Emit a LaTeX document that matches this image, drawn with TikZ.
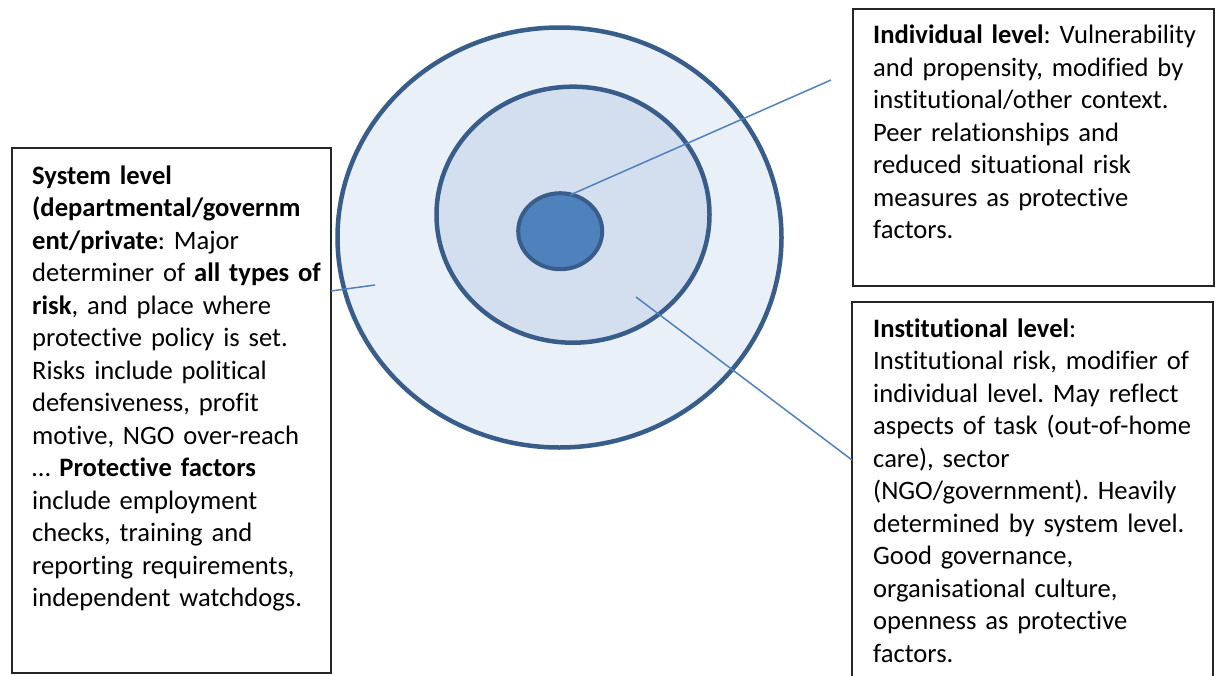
\documentclass[tikz,border=0pt]{standalone}
\usepackage{fontspec}
\setmainfont{Carlito}[RawFeature={-liga;-clig;-calt;-dlig;-rlig}]
\frenchspacing
\usetikzlibrary{shapes.geometric}
\definecolor{ringline}{HTML}{385D8A}
\definecolor{outerfill}{HTML}{EAF0F8}
\definecolor{midfill}{HTML}{D3DFEE}
\definecolor{corefill}{HTML}{4F81BD}
\definecolor{leader}{HTML}{4F81BD}
\begin{document}
\begin{tikzpicture}[x=1pt,y=-1pt,
  ring/.style={ellipse, draw=ringline, line width=4.5pt, inner sep=0pt, outer sep=0pt},
  infobox/.style={draw=black!85, line width=1.2pt, fill=white, rectangle, inner sep=0pt, outer sep=0pt},
  infotext/.style={anchor=base west, text width=#1, align=left, inner sep=0pt,
     font=\fontsize{26.6}{32.5}\selectfont\frenchspacing, text=black},
  leaderline/.style={draw=leader, line width=1.5pt}]
\useasboundingbox (0,0) rectangle (1215,675);
% rings
\node[ring, fill=outerfill, minimum width=444, minimum height=420] (outer) at (559.5,237.5) {};
\node[ring, fill=midfill, minimum width=273, minimum height=256] (middle) at (573,214.7) {};
\node[ring, fill=corefill, line width=4pt, minimum width=84, minimum height=76] (core) at (560.2,231.2) {};
% boxes
\node[infobox, minimum width=319, minimum height=525, anchor=north west] (sysbox) at (12,148) {};
\node[infobox, minimum width=361, minimum height=277, anchor=north west] (indbox) at (853,9) {};
\node[infobox, minimum width=361, minimum height=390, anchor=north west] (insbox) at (852,302) {};
% texts
\node[infotext=300] (systext) at (32,184) {\textbf{System level}\\
\textbf{(departmental/governm}\\
\textbf{ent/private}: Major\\
determiner of \textbf{all types of}\\
\textbf{risk}, and place where\\
protective policy is set.\\
Risks include political\\
defensiveness, profit\\
motive, NGO over-reach\\
… \textbf{Protective factors}\\
include employment\\
checks, training and\\
reporting requirements,\\
independent watchdogs.};
\node[infotext=335] (indtext) at (873,43.5) {\textbf{Individual level}: Vulnerability\\
and propensity, modified by\\
institutional/other context.\\
Peer relationships and\\
reduced situational risk\\
measures as protective\\
factors.};
\node[infotext=335] (instext) at (873,337) {\textbf{Institutional level}:\\
Institutional risk, modifier of\\
individual level. May reflect\\
aspects of task (out-of-home\\
care), sector\\
(NGO/government). Heavily\\
determined by system level.\\
Good governance,\\
organisational culture,\\
openness as protective\\
factors.};
% leader lines
\coordinate (sysend) at (375,285);
\coordinate (sysedge) at (331,291);
\coordinate (coreend) at (570,195);
\coordinate (indend) at (831,80);
\coordinate (midend) at (636,297);
\coordinate (insedge) at (852,460);
\draw[leaderline] (sysend) -- (sysedge);
\draw[leaderline] (coreend) -- (indend);
\draw[leaderline] (midend) -- (insedge);
\end{tikzpicture}
\end{document}
